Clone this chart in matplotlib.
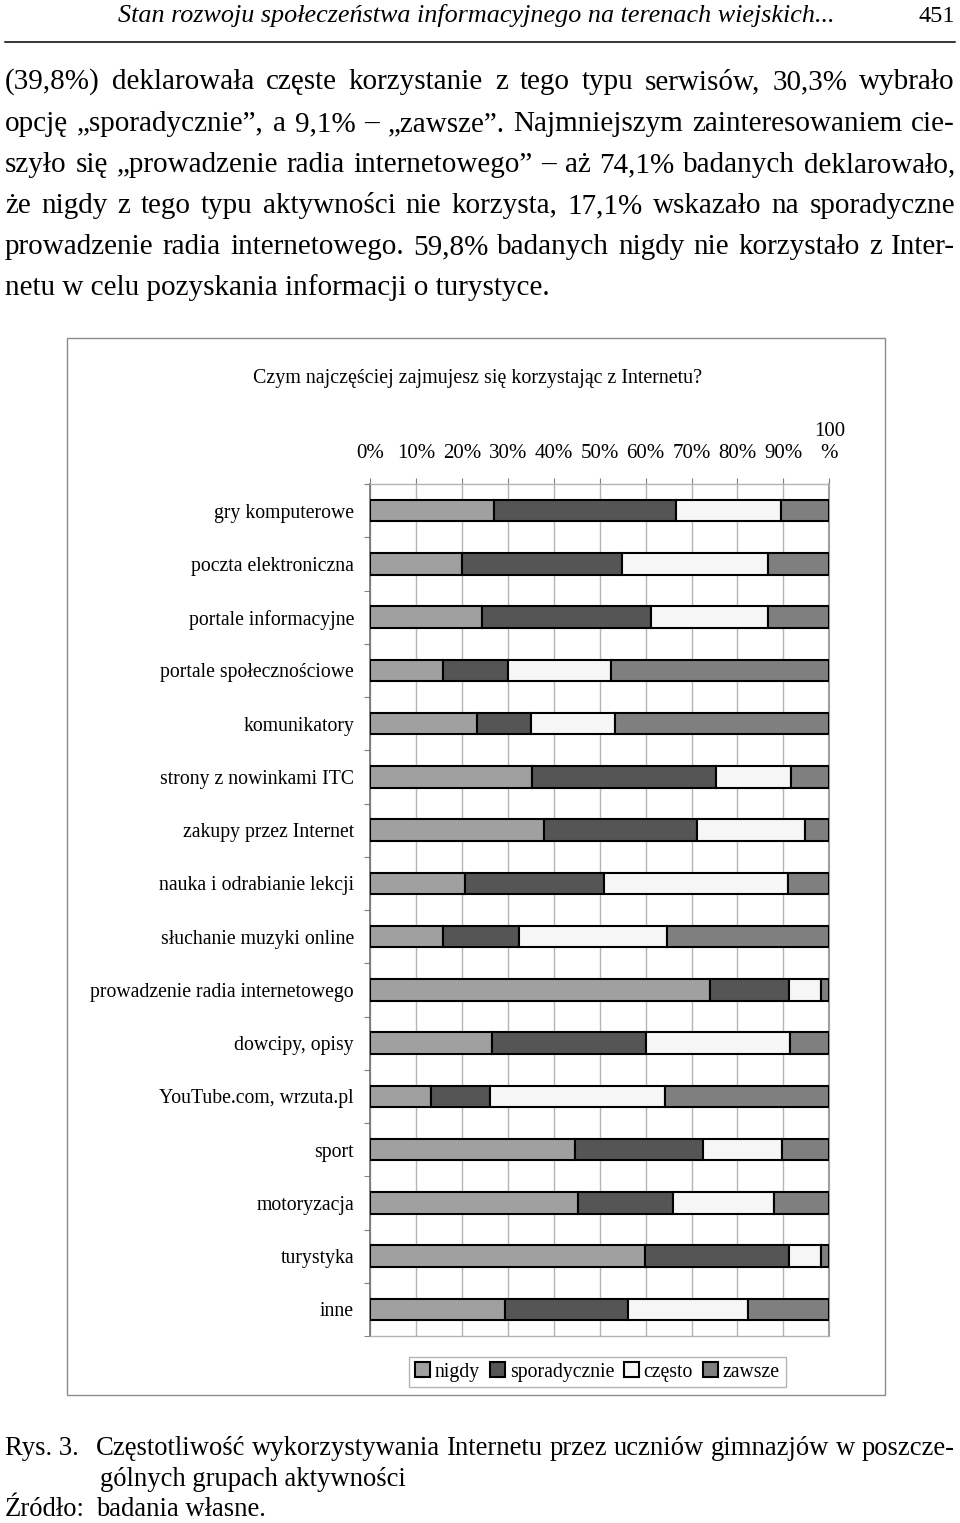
import matplotlib
matplotlib.use("Agg")
import matplotlib.pyplot as plt
from matplotlib.patches import Rectangle, Patch
import numpy as np

plt.rcParams['font.family'] = ['Liberation Serif', 'DejaVu Serif']

# ---------------- data ----------------
categories = ['gry komputerowe', 'poczta elektroniczna', 'portale informacyjne',
              'portale społecznościowe', 'komunikatory', 'strony z nowinkami ITC',
              'zakupy przez Internet', 'nauka i odrabianie lekcji',
              'słuchanie muzyki online', 'prowadzenie radia internetowego',
              'dowcipy, opisy', 'YouTube.com, wrzuta.pl', 'sport', 'motoryzacja',
              'turystyka', 'inne']
nigdy = [26.9, 20.0, 24.4, 16.0, 23.3, 35.3, 37.9, 20.7, 16.0, 74.1, 26.6, 13.3, 44.7, 45.2, 59.8, 29.4]
sporadycznie = [39.7, 34.9, 36.8, 14.0, 11.7, 40.1, 33.4, 30.3, 16.5, 17.1, 33.4, 12.8, 27.9, 20.7, 31.4, 26.8]
czesto = [22.8, 31.7, 25.4, 22.5, 18.3, 16.3, 23.5, 39.9, 32.2, 7.1, 31.4, 38.2, 17.2, 22.1, 6.9, 26.2]
zawsze = [10.6, 13.4, 13.4, 47.5, 46.7, 8.3, 5.2, 9.1, 35.3, 1.7, 8.6, 35.7, 10.2, 12.0, 1.9, 17.6]
series_names = ['nigdy', 'sporadycznie', 'często', 'zawsze']
tick_values = [0, 10, 20, 30, 40, 50, 60, 70, 80, 90, 100]
tick_labels = ['0%', '10%', '20%', '30%', '40%', '50%', '60%', '70%', '80%', '90%', '100\n%']
chart_title = 'Czym najczęściej zajmujesz się korzystając z Internetu?'

header_text = 'Stan rozwoju społeczeństwa informacyjnego na terenach wiejskich...'
page_number = '451'
body_lines = [
    '(39,8%) deklarowała częste korzystanie z tego typu serwisów, 30,3% wybrało',
    'opcję „sporadycznie”, a 9,1% – „zawsze”. Najmniejszym zainteresowaniem cie-',
    'szyło się „prowadzenie radia internetowego” – aż 74,1% badanych deklarowało,',
    'że nigdy z tego typu aktywności nie korzysta, 17,1% wskazało na sporadyczne',
    'prowadzenie radia internetowego. 59,8% badanych nigdy nie korzystało z Inter-',
    'netu w celu pozyskania informacji o turystyce.',
]
caption_label = 'Rys. 3.'
caption_lines = ['Częstotliwość wykorzystywania Internetu przez uczniów gimnazjów w poszcze-',
                 'gólnych grupach aktywności']
source_label = 'Źródło:'
source_text = 'badania własne.'

colors = ['#a0a0a0', '#555555', '#f6f6f6', '#7f7f7f']

# ---------------- figure ----------------
W, H = 960, 1523
fig = plt.figure(figsize=(W / 100, H / 100), dpi=100)
fig.patch.set_facecolor('white')

ax0 = fig.add_axes([0, 0, 1, 1], zorder=0)
ax0.set_xlim(0, W)
ax0.set_ylim(H, 0)
ax0.axis('off')

renderer = fig.canvas.get_renderer()

def justify(line, y, x0, x1, **kw):
    words = line.split(' ')
    texts = [ax0.text(0, y, w, va='baseline', ha='left', **kw) for w in words]
    widths = [t.get_window_extent(renderer).width for t in texts]
    gap = (x1 - x0 - sum(widths)) / max(len(words) - 1, 1)
    x = x0
    for t, w in zip(texts, widths):
        t.set_x(x)
        x += w + gap

# header
ax0.text(118, 22, header_text, fontsize=18.8, style='italic', va='baseline', ha='left')
ax0.text(955, 22, page_number, fontsize=17.5, va='baseline', ha='right')
ax0.plot([5, 955], [42, 42], color='black', lw=1.1)

# body
body_fs = 21
baselines = [89, 131, 172, 213, 254, 295]
for i, (line, yb) in enumerate(zip(body_lines, baselines)):
    if i < len(body_lines) - 1:
        justify(line, yb, 5, 955, fontsize=body_fs)
    else:
        ax0.text(5, yb, line, fontsize=body_fs, va='baseline', ha='left')

# chart frame
ax0.add_patch(Rectangle((67, 338), 818, 1057, fill=False, edgecolor='#8c8c8c', lw=1.0))
ax0.text(478, 378, chart_title, fontsize=14.4, ha='center', va='center')

# caption
cap_fs = 19.2
ax0.text(5, 1455, caption_label, fontsize=cap_fs, va='baseline', ha='left')
justify(caption_lines[0], 1455, 96, 955, fontsize=cap_fs)
ax0.text(100, 1486, caption_lines[1], fontsize=cap_fs, va='baseline', ha='left')
ax0.text(5, 1516, source_label, fontsize=cap_fs, va='baseline', ha='left')
ax0.text(96, 1516, source_text, fontsize=cap_fs, va='baseline', ha='left')

# ---------------- bar chart ----------------
left_px, right_px, top_px, bot_px = 370, 829.3, 484, 1336
ax = fig.add_axes([left_px / W, 1 - bot_px / H, (right_px - left_px) / W, (bot_px - top_px) / H], zorder=2)
ax.set_facecolor('none')
n = len(categories)
y = np.arange(n)
left = np.zeros(n)
for vals, col, name in zip([nigdy, sporadycznie, czesto, zawsze], colors, series_names):
    ax.barh(y, vals, left=left, height=0.4, color=col, edgecolor='black', linewidth=1.5,
            label=name, zorder=3)
    left += np.array(vals)

ax.set_xlim(0, 100)
ax.set_ylim(n - 0.5, -0.5)
ax.xaxis.tick_top()
ax.set_xticks(tick_values)
ax.set_xticklabels(tick_labels, fontsize=15)
ax.tick_params(axis='x', which='major', length=4, width=0.8, color='#808080', pad=11,
               direction='out')
ax.grid(axis='x', color='#b4b4b4', lw=1.0, zorder=0)
ax.set_yticks(y)
ax.set_yticklabels(categories, fontsize=14.2)
ax.tick_params(axis='y', which='major', length=0, pad=11.5)
ax.set_yticks(np.arange(n + 1) - 0.5, minor=True)
ax.tick_params(axis='y', which='minor', length=4, width=0.8, color='#808080')
for s in ['top', 'bottom']:
    ax.spines[s].set_color('#b4b4b4')
    ax.spines[s].set_linewidth(1.0)
ax.spines['right'].set_color('#a0a0a0')
ax.spines['right'].set_linewidth(1.5)
ax.spines['left'].set_color('#707070')
ax.spines['left'].set_linewidth(1.2)

# legend
handles = [Patch(facecolor=c, edgecolor='black', linewidth=1.5) for c in colors]
leg = fig.legend(handles, series_names, ncol=4, loc='center',
                 bbox_to_anchor=(597.5 / W, 1 - 1372 / H), frameon=True, fancybox=False,
                 edgecolor='#a0a0a0', fontsize=14.2, handlelength=0.75, handleheight=0.75,
                 handletextpad=0.25, columnspacing=0.5, borderpad=0.3, borderaxespad=0)
leg.get_frame().set_linewidth(1.0)

fig.savefig('out.png', dpi=100)
